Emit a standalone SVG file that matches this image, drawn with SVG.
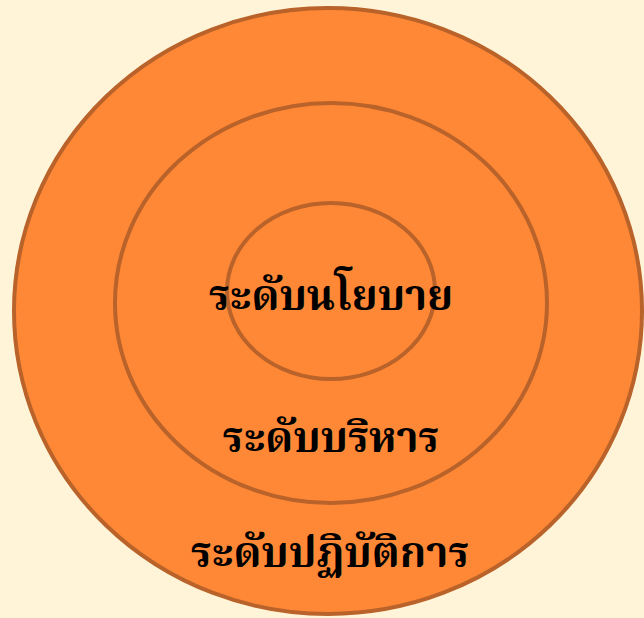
<svg xmlns="http://www.w3.org/2000/svg" width="644" height="618" viewBox="0 0 644 618">
<style>
.ring{fill:#FF8836;stroke:#B9622A;stroke-width:4}
.lbl{font-family:"Liberation Serif","Noto Serif Thai","Noto Sans Thai",serif;font-weight:bold;font-size:42px;fill:#000;text-anchor:middle}
</style>
<rect width="644" height="618" fill="#FFF4D7"/>
<g id="outer"><ellipse class="ring" cx="328" cy="311" rx="314" ry="303"/><text class="lbl" x="330" y="567">ระดับปฏิบัติการ</text></g>
<g id="middle"><ellipse class="ring" cx="331" cy="303" rx="216" ry="200"/><text class="lbl" x="331" y="452">ระดับบริหาร</text></g>
<g id="inner"><ellipse class="ring" cx="331" cy="291" rx="104" ry="88"/><text class="lbl" x="331" y="310">ระดับนโยบาย</text></g>
</svg>
